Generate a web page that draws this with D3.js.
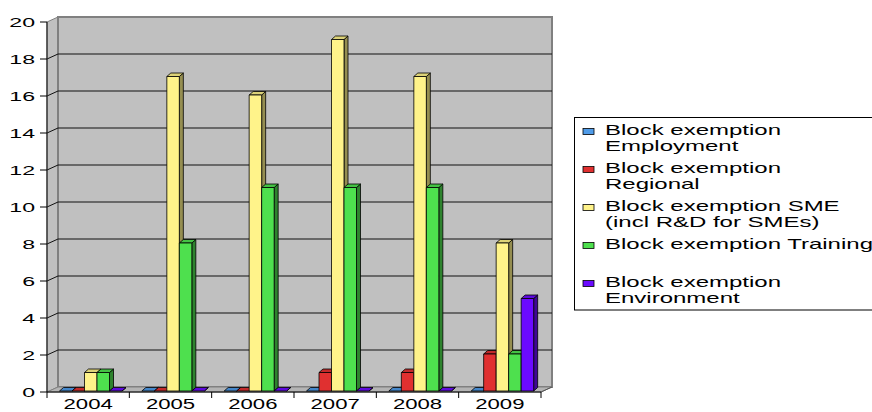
<!DOCTYPE html>
<html><head><meta charset="utf-8">
<script src="https://cdn.jsdelivr.net/npm/d3@7"></script>
<style>html,body{margin:0;padding:0;background:#fff;}svg{display:block;}</style>
</head><body>
<svg id="c" width="872" height="412"></svg>
<script>
const categories = ["2004","2005","2006","2007","2008","2009"];
const seriesNames = ["Block exemption Employment","Block exemption Regional","Block exemption SME (incl R&D for SMEs)","Block exemption Training","Block exemption Environment"];
const employment = [0,0,0,0,0,0];
const regional   = [0,0,0,1,1,2];
const sme        = [1,17,16,19,17,8];
const training   = [1,8,11,11,11,2];
const environment= [0,0,0,0,0,5];
const seriesValues = [employment, regional, sme, training, environment];
const seriesColors = ["#4f9be8","#e03030","#fff38a","#4ee04e","#6b0aff"];
const yTicks = [0,2,4,6,8,10,12,14,16,18,20];
const legendLines = [["Block exemption","Employment"],["Block exemption","Regional"],["Block exemption SME","(incl R&D for SMEs)"],["Block exemption Training",""],["Block exemption","Environment"]];

(function(){
const svg = d3.select("#c");
const FONT = "'Liberation Sans', Arial, sans-serif";
const pLeft = 47, pRight = 541, pBottom = 392, pTop = 22;
const dx = 11, dy = -5;        // wall depth
const bdx = 4, bdy = -3.5;     // bar depth

const y = d3.scaleLinear().domain([0,20]).range([pBottom, pTop]);
const x = d3.scaleBand().domain(categories).range([pLeft, pRight]);
const xs = d3.scaleBand().domain(d3.range(seriesNames.length)).range([12.5, 75]);

function txt(g, px, py, s, size, sx, anchor){
  return g.append("text").attr("transform",`translate(${px},${py}) scale(${sx},1)`)
    .attr("font-family",FONT).attr("font-size",size).attr("text-anchor",anchor||"start")
    .attr("fill","#000").text(s);
}

// side wall
svg.append("polygon").attr("points",[[pLeft,y(20)],[pLeft+dx,y(20)+dy],[pLeft+dx,y(0)+dy],[pLeft,y(0)]].join(" "))
  .attr("fill","#c0c0c0").attr("stroke","#808080").attr("stroke-width",1);
// back wall
svg.append("rect").attr("x",pLeft+dx).attr("y",y(20)+dy).attr("width",pRight-pLeft).attr("height",y(0)-y(20))
  .attr("fill","#c0c0c0").attr("stroke","#808080").attr("stroke-width",2);
// floor
svg.append("polygon").attr("points",[[pLeft,y(0)],[pRight,y(0)],[pRight+dx,y(0)+dy],[pLeft+dx,y(0)+dy]].join(" "))
  .attr("fill","#b4b4b4").attr("stroke","#808080").attr("stroke-width",1);

// gridlines
yTicks.filter(v=>v>0 && v<20).forEach(v=>{
  svg.append("line").attr("x1",pLeft+dx).attr("x2",pRight+dx).attr("y1",y(v)+dy).attr("y2",y(v)+dy)
    .attr("stroke","#111").attr("stroke-width",1);
  svg.append("line").attr("x1",pLeft).attr("x2",pLeft+dx).attr("y1",y(v)).attr("y2",y(v)+dy)
    .attr("stroke","#111").attr("stroke-width",1);
});

// y axis
svg.append("line").attr("x1",pLeft).attr("x2",pLeft).attr("y1",y(20)).attr("y2",y(0)).attr("stroke","#222").attr("stroke-width",1.2);
yTicks.forEach(v=>{
  svg.append("line").attr("x1",pLeft-7).attr("x2",pLeft).attr("y1",y(v)).attr("y2",y(v)).attr("stroke","#000");
  txt(svg, 35, y(v)+4.5, String(v), 12.5, 1.85, "end");
});

// x axis
svg.append("line").attr("x1",pLeft).attr("x2",pRight).attr("y1",pBottom).attr("y2",pBottom).attr("stroke","#000").attr("stroke-width",1.2);
svg.append("line").attr("x1",pRight).attr("x2",pRight+dx).attr("y1",pBottom).attr("y2",pBottom+dy).attr("stroke","#555");
d3.range(categories.length+1).forEach(i=>{
  const px = pLeft + i*x.bandwidth();
  svg.append("line").attr("x1",px).attr("x2",px).attr("y1",pBottom).attr("y2",pBottom+6).attr("stroke","#000");
});
categories.forEach(c=>{
  txt(svg, x(c)+x.bandwidth()/2, 409, c, 14, 1.58, "middle");
});

// bars
const bars = svg.append("g");
categories.forEach((c,ci)=>{
  seriesValues.forEach((vals,si)=>{
    const v = vals[ci];
    const col = d3.color(seriesColors[si]);
    const x0 = x(c) + xs(si), w = xs.bandwidth();
    const yb = y(0) - 1, yt = y(v) - 1;
    const g = bars.append("g").attr("stroke","#000").attr("stroke-width",0.8).attr("stroke-linejoin","round");
    g.append("polygon").attr("points",[[x0+w,yt],[x0+w+bdx,yt+bdy],[x0+w+bdx,yb+bdy],[x0+w,yb]].join(" "))
      .attr("fill",col.darker(1.5));
    g.append("polygon").attr("points",[[x0,yt],[x0+bdx,yt+bdy],[x0+w+bdx,yt+bdy],[x0+w,yt]].join(" "))
      .attr("fill",col.darker(0.4));
    g.append("rect").attr("x",x0).attr("y",yt).attr("width",w).attr("height",yb-yt).attr("fill",col);
  });
});

// legend
const lg = svg.append("g");
lg.append("rect").attr("x",574.5).attr("y",117.5).attr("width",320).attr("height",192.5)
  .attr("fill","#fff").attr("stroke","#000").attr("stroke-width",1);
legendLines.forEach((lines,i)=>{
  const base = 135 + i*38;
  lg.append("rect").attr("x",583).attr("y",base-6.5).attr("width",11).attr("height",6)
    .attr("fill",seriesColors[i]).attr("stroke","#000").attr("stroke-width",0.8);
  lines.forEach((s,j)=>{ if(s) txt(lg, 605, base + j*15.5, s, 15, 1.6, "start"); });
});
})();
</script>
</body></html>
